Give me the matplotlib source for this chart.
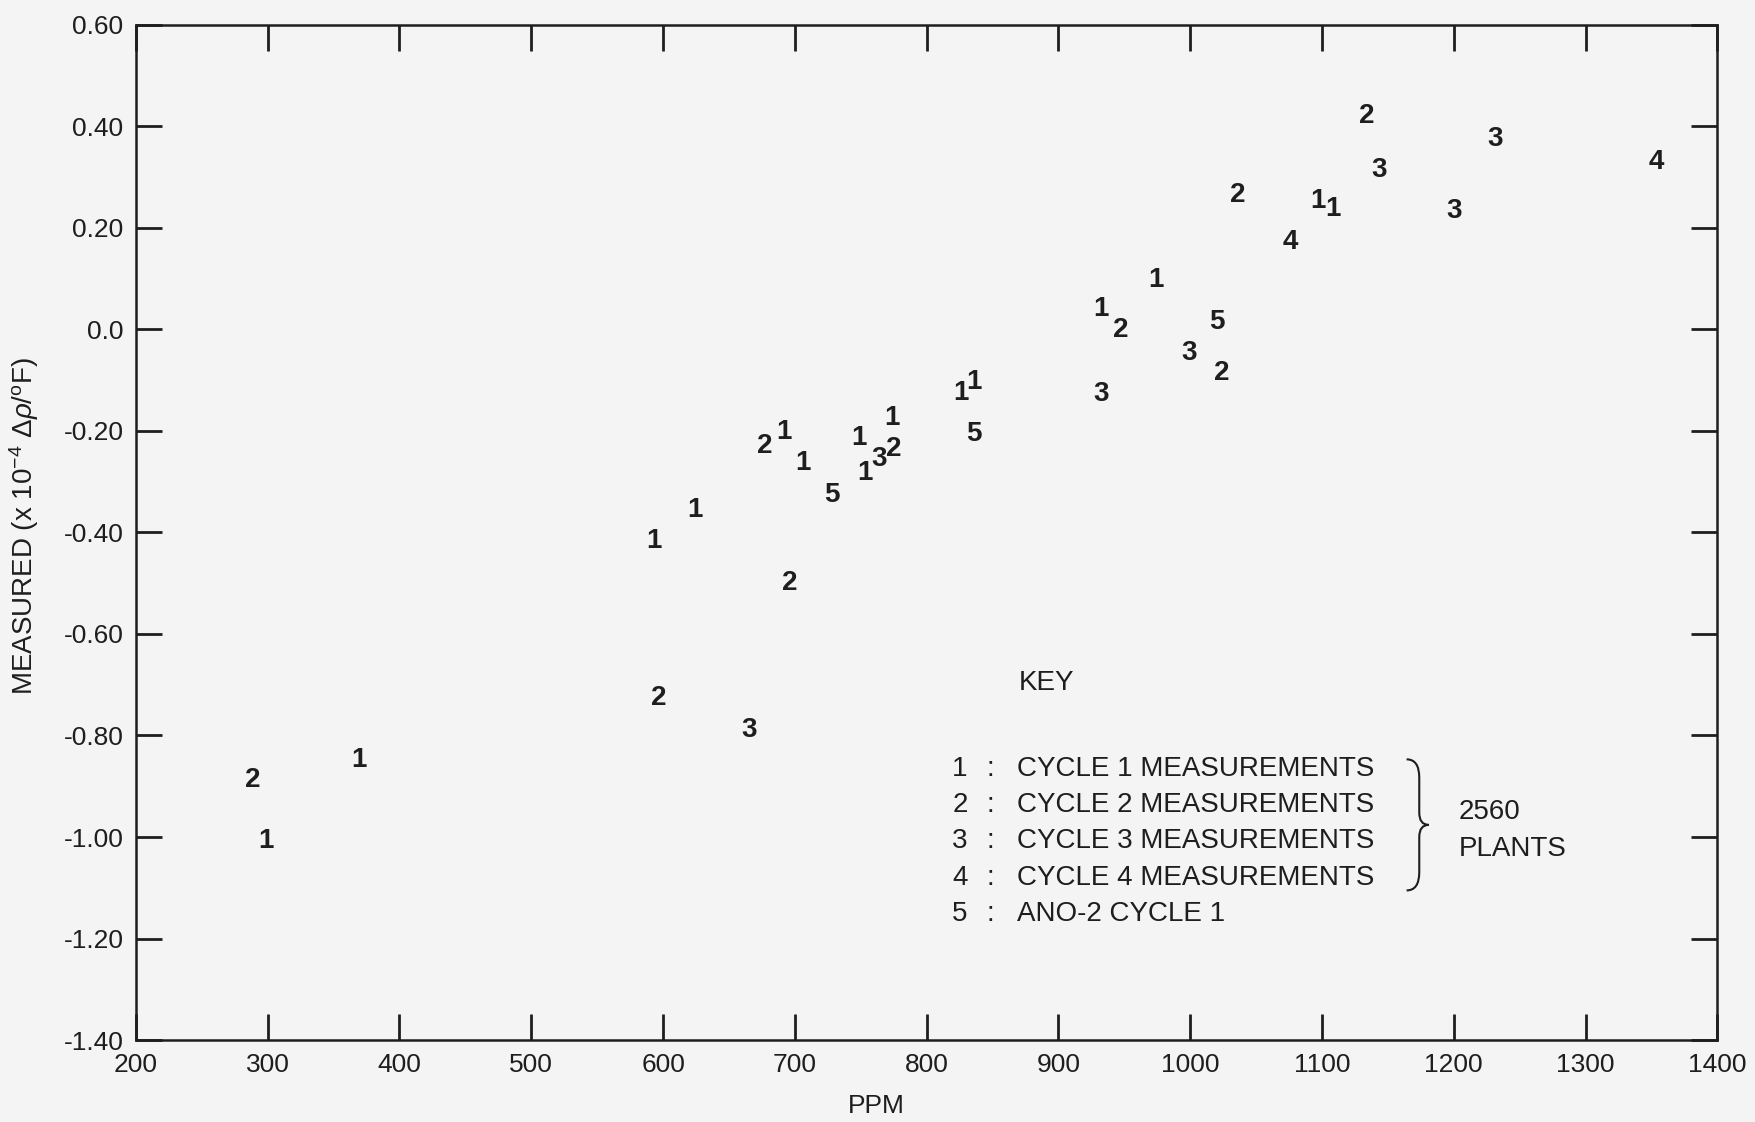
import matplotlib.pyplot as plt
from matplotlib.path import Path
from matplotlib.patches import PathPatch

plt.rcParams["font.family"] = ["Liberation Sans", "DejaVu Sans"]
plt.rcParams["mathtext.fontset"] = "custom"
plt.rcParams["mathtext.rm"] = "Liberation Sans"
plt.rcParams["mathtext.it"] = "Liberation Sans:italic"

INK = "#1e1e1e"
PAPER = "#f4f4f4"

# measurements: (ppm, value), grouped by cycle number used as the plot symbol
cycle1_ppm = [299, 369, 593, 624, 692, 706, 749, 753, 774, 826, 836, 932, 974, 1097, 1108]
cycle1_val = [-1.007, -0.848, -0.416, -0.355, -0.203, -0.264, -0.214, -0.284, -0.174,
              -0.126, -0.104, 0.040, 0.097, 0.253, 0.236]
cycle2_ppm = [289, 597, 677, 696, 775, 947, 1024, 1036, 1134]
cycle2_val = [-0.888, -0.727, -0.229, -0.500, -0.236, -0.002, -0.086, 0.264, 0.421]
cycle3_ppm = [665, 764, 932, 999, 1143, 1200, 1231]
cycle3_val = [-0.789, -0.256, -0.128, -0.046, 0.313, 0.233, 0.374]
cycle4_ppm = [1076, 1354]
cycle4_val = [0.172, 0.330]
ano2_ppm = [728, 836, 1020]
ano2_val = [-0.326, -0.207, 0.015]

series = [("1", cycle1_ppm, cycle1_val), ("2", cycle2_ppm, cycle2_val),
          ("3", cycle3_ppm, cycle3_val), ("4", cycle4_ppm, cycle4_val),
          ("5", ano2_ppm, ano2_val)]

x_ticks = list(range(200, 1401, 100))
y_ticks = [-1.40, -1.20, -1.00, -0.80, -0.60, -0.40, -0.20, 0.0, 0.20, 0.40, 0.60]
y_labels = ["-1.40", "-1.20", "-1.00", "-0.80", "-0.60", "-0.40", "-0.20",
            "0.0", "0.20", "0.40", "0.60"]

key_symbols = ["1", "2", "3", "4", "5"]
key_texts = ["CYCLE 1 MEASUREMENTS", "CYCLE 2 MEASUREMENTS", "CYCLE 3 MEASUREMENTS",
             "CYCLE 4 MEASUREMENTS", "ANO-2 CYCLE 1"]

fig = plt.figure(figsize=(17.56, 11.22), dpi=100, facecolor=PAPER)
ax = fig.add_axes([0.0774, 0.073, 0.9006, 0.905], facecolor=PAPER)

for sym, xs, ys in series:
    for x, y in zip(xs, ys):
        ax.text(x, y, sym, ha="center", va="center", fontsize=20,
                fontweight="bold", color=INK)

ax.set_xlim(200, 1400)
ax.set_ylim(-1.40, 0.60)
ax.set_xticks(x_ticks)
ax.set_yticks(y_ticks)
ax.set_yticklabels(y_labels)
ax.tick_params(direction="in", length=19, width=2, color=INK, labelcolor=INK,
               labelsize=19, top=True, right=True, pad=9)
for s in ax.spines.values():
    s.set_linewidth(1.8)
    s.set_color(INK)

ax.set_xlabel("PPM", fontsize=19, color=INK)
ax.xaxis.set_label_coords(0.468, -0.053)
ax.set_ylabel(r"MEASURED (x 10$^{\mathregular{-4}}$ $\Delta\rho$/$^{\mathregular{o}}$F)",
              fontsize=20, color=INK)
ax.yaxis.set_label_coords(-0.060, 0.506)

# key block
tr = ax.transAxes
ax.text(0.558, 0.3515, "KEY", transform=tr, fontsize=20, color=INK, va="center")
rows_y = [0.2666, 0.2313, 0.1960, 0.1596, 0.1243]
for sym, label, ry in zip(key_symbols, key_texts, rows_y):
    ax.text(0.521, ry, sym, transform=tr, fontsize=20, color=INK, ha="center", va="center")
    ax.text(0.540, ry, ":", transform=tr, fontsize=20, color=INK, ha="center", va="center")
    ax.text(0.557, ry, label, transform=tr, fontsize=20, color=INK, va="center")

# curly brace for the 2560 plants group
bx, top, bot = 0.8115, 0.2765, 0.1474
mid = (top + bot) / 2
verts = [(bx - 0.008, top), (bx, top), (bx, top - 0.018),
         (bx, mid + 0.012),
         (bx, mid), (bx + 0.006, mid),
         (bx, mid), (bx, mid - 0.012),
         (bx, bot + 0.018),
         (bx, bot), (bx - 0.008, bot)]
codes = [Path.MOVETO, Path.CURVE3, Path.CURVE3, Path.LINETO,
         Path.CURVE3, Path.CURVE3, Path.CURVE3, Path.CURVE3,
         Path.LINETO, Path.CURVE3, Path.CURVE3]
ax.add_patch(PathPatch(Path(verts, codes), transform=tr, fill=False,
                       lw=1.5, edgecolor=INK))
ax.text(0.8365, 0.2247, "2560", transform=tr, fontsize=20, color=INK, va="center")
ax.text(0.8365, 0.1883, "PLANTS", transform=tr, fontsize=20, color=INK, va="center")

fig.savefig("out.png", dpi=100, facecolor=PAPER)
